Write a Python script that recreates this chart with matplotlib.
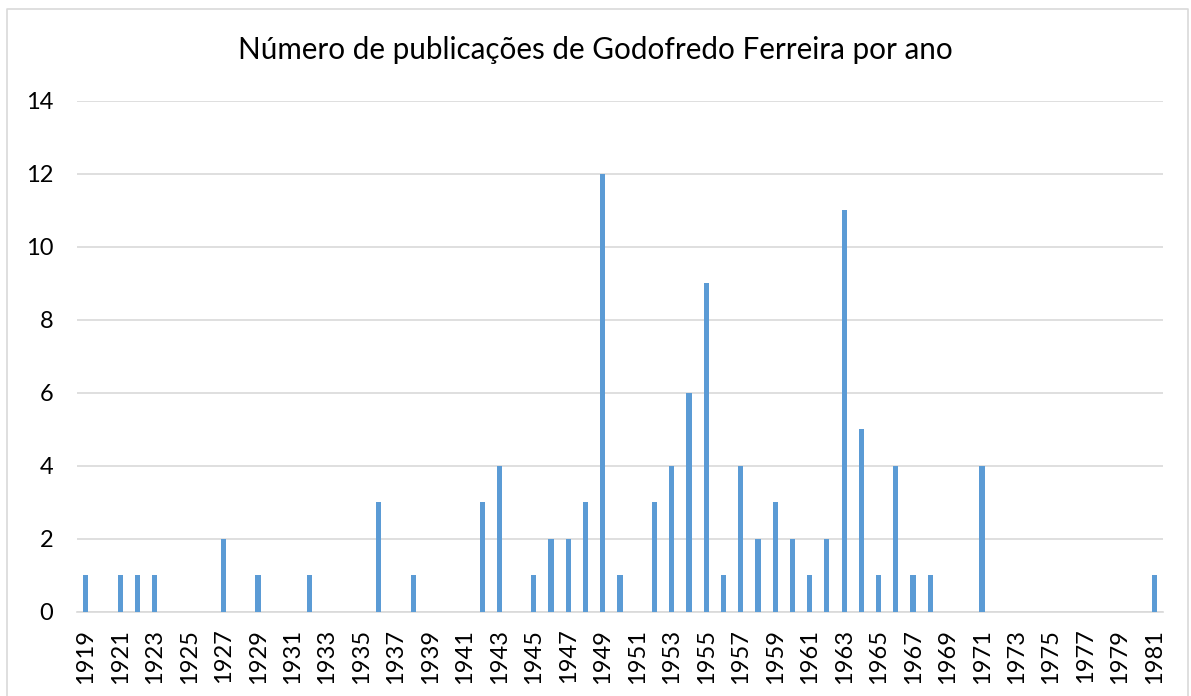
import matplotlib
matplotlib.use("Agg")
import matplotlib.pyplot as plt
from matplotlib.lines import Line2D

# ─── Daten ────────────────────────────────────────────────────────────────────
anos = list(range(1919, 1982))
pub_anos = [1919, 1921, 1922, 1923, 1927, 1929, 1932, 1936, 1938, 1942, 1943,
            1945, 1946, 1947, 1948, 1949, 1950, 1952, 1953, 1954, 1955, 1956,
            1957, 1958, 1959, 1960, 1961, 1962, 1963, 1964, 1965, 1966, 1967,
            1968, 1971, 1981]
pub_valores = [1, 1, 1, 1, 2, 1, 1, 3, 1, 3, 4,
               1, 2, 2, 3, 12, 1, 3, 4, 6, 9, 1,
               4, 2, 3, 2, 1, 2, 11, 5, 1, 4, 1,
               1, 4, 1]
y_ticks = [0, 2, 4, 6, 8, 10, 12, 14]

contagem = dict(zip(pub_anos, pub_valores))
valores = [contagem.get(a, 0) for a in anos]

AZUL = "#5B9BD5"
CINZA = "#D9D9D9"

plt.rcParams["font.family"] = ["Lato", "DejaVu Sans"]

fig = plt.figure(figsize=(11.91, 6.96), dpi=100)
ax = fig.add_axes([0.0647, 0.1207, 0.9118, 0.7342])

ax.bar(anos, valores, width=0.3, color=AZUL, zorder=3)

ax.set_xlim(1918.5, 1981.5)
ax.set_ylim(0, 14)
ax.set_yticks(y_ticks)
ax.set_xticks(anos[::2])
ax.set_xticklabels([str(a) for a in anos[::2]], rotation=90)

ax.grid(axis="y", color=CINZA, linewidth=1.2, zorder=0)
for s in ["top", "right", "left"]:
    ax.spines[s].set_visible(False)
ax.spines["bottom"].set_color(CINZA)
ax.spines["bottom"].set_linewidth(1.2)
ax.tick_params(axis="both", length=0, labelsize=17, colors="black")
ax.tick_params(axis="y", pad=17)
ax.tick_params(axis="x", pad=12)

fig.text(0.5, 0.928, "Número de publicações de Godofredo Ferreira por ano",
         ha="center", va="center", fontsize=21.3)

# Rahmen wie im Excel-Diagramm
x0, y0 = 7 / 1191, 1 - 9 / 696
x1 = 1 - 3 / 1191
fig.add_artist(Line2D([x0, x0, x1, x1], [0, y0, y0, 0],
                      transform=fig.transFigure, color=CINZA, linewidth=1.2))

plt.savefig("out.png", dpi=100)
plt.close()
